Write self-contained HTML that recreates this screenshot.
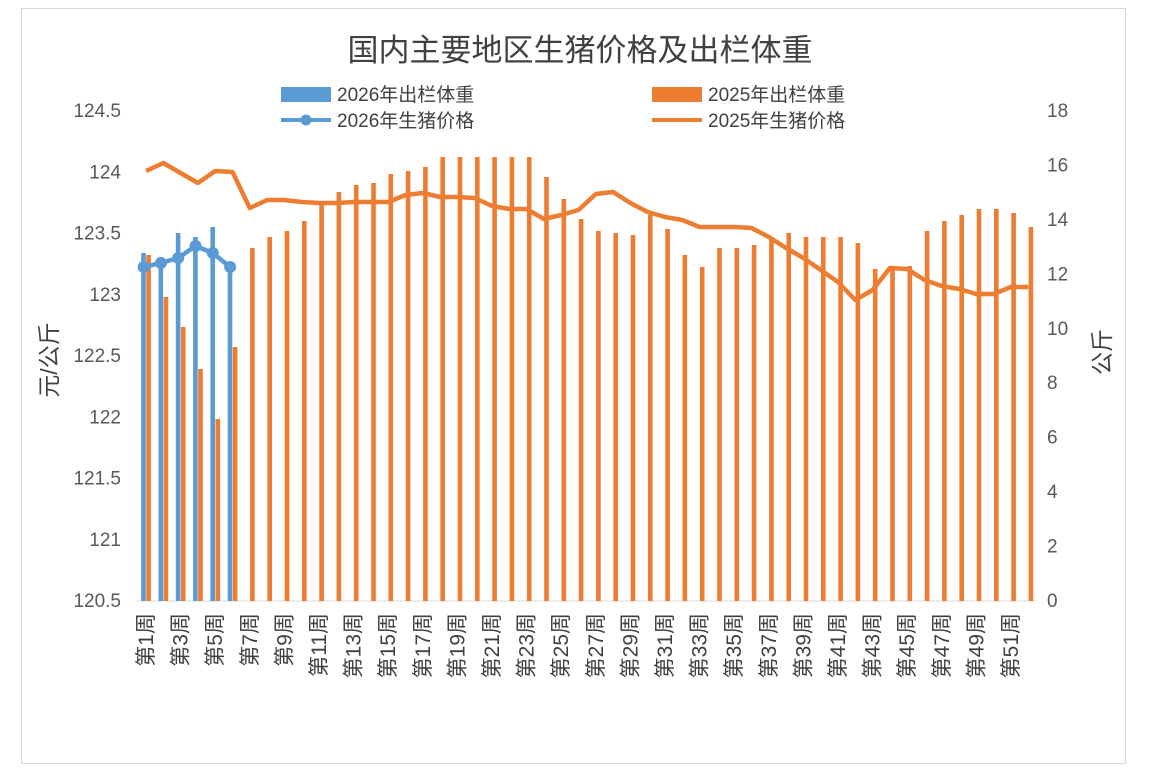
<!DOCTYPE html>
<html><head><meta charset="utf-8"><style>
body{margin:0;background:#fff;}
svg{display:block;font-family:"Liberation Sans","Noto Sans CJK SC",sans-serif;}
</style></head><body>
<svg width="1150" height="776" viewBox="0 0 1150 776" id="s">
<rect x="0" y="0" width="1150" height="776" fill="#fff"/>
<rect x="21.5" y="8.5" width="1104" height="755" fill="none" stroke="#d9d9d9"/>
<text x="580" y="61" font-size="31" text-anchor="middle" fill="#404040">国内主要地区生猪价格及出栏体重</text>
<rect x="281" y="87" width="50" height="15" fill="#5b9bd5"/>
<text x="337" y="101" font-size="19" fill="#404040">2026年出栏体重</text>
<rect x="652" y="87" width="50" height="15" fill="#ed7d31"/>
<text x="708" y="101" font-size="19" fill="#404040">2025年出栏体重</text>
<line x1="281" y1="120" x2="331" y2="120" stroke="#5b9bd5" stroke-width="4"/>
<circle cx="306" cy="120" r="5.5" fill="#5b9bd5"/>
<text x="337" y="127" font-size="19" fill="#404040">2026年生猪价格</text>
<line x1="652" y1="120" x2="702" y2="120" stroke="#ed7d31" stroke-width="4"/>
<text x="708" y="127" font-size="19" fill="#404040">2025年生猪价格</text>
<g font-size="19" fill="#595959" text-anchor="end" id="ly"></g>
<g font-size="19" fill="#595959" id="ry"></g>
<text transform="translate(57,360) rotate(-90)" font-size="23" text-anchor="middle" fill="#404040">元/公斤</text>
<text transform="translate(1110,352) rotate(-90)" font-size="23" text-anchor="middle" fill="#404040">公斤</text>
<line x1="137" y1="601" x2="1037" y2="601" stroke="#d9d9d9"/>
<g id="bars"></g>
<g id="lines"></g>
<g id="xl" font-size="21" fill="#404040"></g>
</svg>
<script>
var NS="http://www.w3.org/2000/svg";
function el(t,a,p,txt){var e=document.createElementNS(NS,t);for(var k in a)e.setAttribute(k,a[k]);if(txt)e.textContent=txt;document.getElementById(p).appendChild(e);return e;}
var L=["124.5","124","123.5","123","122.5","122","121.5","121","120.5"];
for(var i=0;i<9;i++){el("text",{x:121,y:117+i*61.25},"ly",L[i]);}
for(var i=0;i<10;i++){el("text",{x:1047,y:607-i*54.44},"ry",String(i*2));}
function cx(i){return 146+17.3*(i-1);}
var ob=[255,297,327,369,419,347,248,237,231,221,205,192,185,183,174,171,167,157,157,157,157,157,157,177,199,219,231,233,235,215,229,255,267,248,248,245,237,233,237,237,237,243,269,266,266,231,221,215,209,209,213,227];
var bb=[253,257,233,237,227,265];
for(var i=0;i<52;i++){el("rect",{x:cx(i+1)+0.3,y:ob[i],width:4.6,height:601-ob[i],fill:"#ed7d31"},"bars");}
for(var i=0;i<6;i++){el("rect",{x:cx(i+1)-4.8,y:bb[i],width:4.6,height:601-bb[i],fill:"#5b9bd5"},"bars");}
var ol=[171,163,173,183,171,172,208,200,200,202,203,203,202,202,202,195,193,197,197,198,206,209,209,219,215,210,194,192,203,212,217,220,227,227,227,228,237,248,258,270,282,300,290,268,269,280,286,289,294,294,287,287];
var p="";for(var i=0;i<52;i++)p+=(i?"L":"M")+cx(i+1).toFixed(1)+" "+ol[i];
el("path",{d:p,fill:"none",stroke:"#ed7d31","stroke-width":4.5,"stroke-linejoin":"round"},"lines");
var bl=[267,263,258,246,253,267];p="";
for(var i=0;i<6;i++)p+=(i?"L":"M")+(cx(i+1)-2.4).toFixed(1)+" "+bl[i];
el("path",{d:p,fill:"none",stroke:"#5b9bd5","stroke-width":4.5,"stroke-linejoin":"round"},"lines");
for(var i=0;i<6;i++)el("circle",{cx:cx(i+1)-2.4,cy:bl[i],r:6,fill:"#5b9bd5"},"lines");
for(var i=1;i<=52;i+=2){el("text",{transform:"translate("+(cx(i)+7)+",613) rotate(-90)","text-anchor":"end"},"xl","第"+i+"周");}
</script>
</body></html>
